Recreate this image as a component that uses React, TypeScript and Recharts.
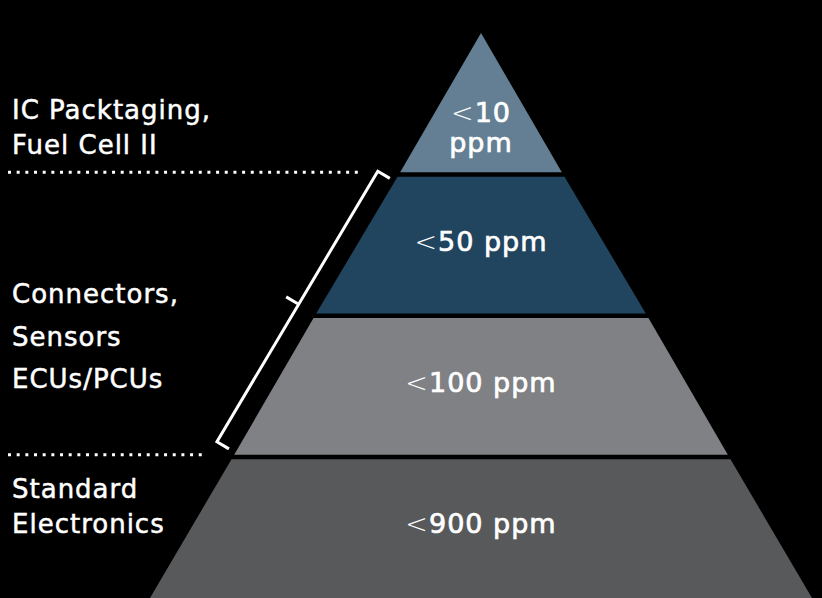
import { Funnel, FunnelChart } from "recharts";

// tiers listed bottom -> top (Funnel is drawn reversed, so the first row sits at the base)
const tierLabels = ["<900 ppm", "<100 ppm", "<50 ppm", "<10 ppm"];
const tierWidths = [662, 496, 332, 164];
const tierGroups = [0, 1, 1, 2];
const groupLabels = [
  ["Standard", "Electronics"],
  ["Connectors,", "Sensors", "ECUs/PCUs"],
  ["IC Packtaging,", "Fuel Cell II"],
];

const TIER_COLORS = ["#58595b", "#808185", "#21445f", "#647f94"];

const CHART_LEFT = 150;
const CHART_TOP = 33;
const CHART_W = 662;
const CHART_H = 565;
const SIDE_X = 12 - CHART_LEFT;
const DOT_X = 8 - CHART_LEFT;
const SIDE_LAYOUT = [
  { dy: 41.5, lh: 34.5 },
  { dy: 129, lh: 42.5 },
  { dy: 86, lh: 35 },
];
const DOT_END_GAP = [26, 36];
const FONT = "'DejaVu Sans', Verdana, sans-serif";

const rows = tierLabels.map((name, i) => ({
  name,
  width: tierWidths[i],
  group: tierGroups[i],
  tier: i,
}));

function TierShape(props: any) {
  const { x, y, upperWidth, lowerWidth, height } = props;
  const p = props.payload ?? props;
  const tier: number = p.tier;
  const group: number = p.group;
  const cx = x + upperWidth / 2;
  const half = (yy: number) => (upperWidth + ((lowerWidth - upperWidth) * (yy - y)) / height) / 2;
  const isApex = upperWidth < 1;
  const isBase = tier === 0;
  const y1 = isApex ? y : y + 2.5;
  const y2 = isBase ? y + height : y + height - 2;
  const d = `M${cx - half(y1)},${y1}L${cx + half(y1)},${y1}L${cx + half(y2)},${y2}L${cx - half(y2)},${y2}Z`;

  const lines: string[] = isApex ? p.name.split(" ") : [p.name];
  const base = isApex ? y + height * 0.63 : y + height * 0.54;

  // group annotations are drawn by the top tier of each group
  const isGroupTop = tier === rows.length - 1 || rows[tier + 1].group !== group;
  const groupCount = rows.filter((r) => r.group === group).length;
  const layout = SIDE_LAYOUT[group];

  let bracket: string | null = null;
  if (isGroupTop && groupCount > 1) {
    const bx = (yy: number) => cx - half(yy) - 23;
    const yTop = y - 3;
    const yBot = y + groupCount * height - 15;
    const dx = bx(yBot) - bx(yTop);
    const dy = yBot - yTop;
    const len = Math.hypot(dx, dy);
    const px = dy / len;
    const py = -dx / len;
    const hook = 14;
    const mx = (bx(yTop) + bx(yBot)) / 2;
    const my = (yTop + yBot) / 2 - 3;
    bracket =
      `M${bx(yTop) + px * hook},${yTop + py * hook}L${bx(yTop)},${yTop}` +
      `L${bx(yBot)},${yBot}L${bx(yBot) + px * hook},${yBot + py * hook}` +
      `M${mx},${my}L${mx - px * 13},${my - py * 13}`;
  }

  const hasDots = isGroupTop && tier !== rows.length - 1;

  return (
    <g>
      <path d={d} fill={TIER_COLORS[tier]} />
      {lines.map((line, k) => (
        <text
          key={k}
          x={cx}
          y={base + k * 30}
          textAnchor="middle"
          fill="#ffffff"
          fontFamily={FONT}
          fontSize={27}
          letterSpacing={1}
        >
          {line.startsWith("<") ? (
            <>
              <tspan fontWeight={200}>{"<"}</tspan>
              <tspan stroke="#ffffff" strokeWidth={0.7}>
                {line.slice(1)}
              </tspan>
            </>
          ) : (
            <tspan stroke="#ffffff" strokeWidth={0.7}>
              {line}
            </tspan>
          )}
        </text>
      ))}
      {isGroupTop &&
        groupLabels[group].map((line, k) => (
          <text
            key={`s${k}`}
            x={SIDE_X}
            y={y + layout.dy + k * layout.lh}
            fill="#ffffff"
            stroke="#ffffff"
            strokeWidth={0.5}
            fontFamily={FONT}
            fontSize={26}
            letterSpacing={1}
          >
            {line}
          </text>
        ))}
      {hasDots && (
        <line
          x1={DOT_X}
          x2={cx - half(y) - DOT_END_GAP[group]}
          y1={y - 2}
          y2={y - 2}
          stroke="#ffffff"
          strokeWidth={3}
          strokeDasharray="3 5.67"
        />
      )}
      {bracket && <path d={bracket} fill="none" stroke="#ffffff" strokeWidth={3} />}
    </g>
  );
}

export default function App() {
  return (
    <div style={{ position: "relative", width: 822, height: 598, background: "#000", overflow: "hidden" }}>
      <style>{`body{margin:0;background:#000}.recharts-surface{overflow:visible}`}</style>
      <div style={{ position: "absolute", left: CHART_LEFT, top: CHART_TOP }}>
        <FunnelChart width={CHART_W} height={CHART_H} margin={{ top: 0, right: 0, bottom: 0, left: 0 }}>
          <Funnel
            data={rows}
            dataKey="width"
            nameKey="name"
            reversed
            lastShapeType="triangle"
            stroke="none"
            shape={(props: any) => <TierShape {...props} />}
            isAnimationActive={false}
          />
        </FunnelChart>
      </div>
    </div>
  );
}
